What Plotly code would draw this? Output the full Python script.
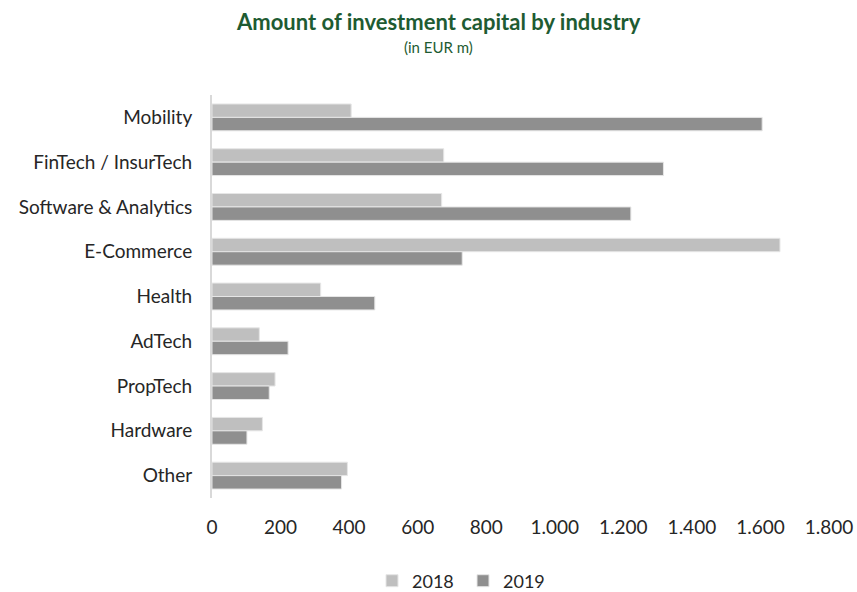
import plotly.graph_objects as go

# Investment capital by industry, EUR m
industries = ["Mobility", "FinTech / InsurTech", "Software & Analytics", "E-Commerce",
              "Health", "AdTech", "PropTech", "Hardware", "Other"]
values_2018 = [406, 676, 670, 1657, 317, 138, 184, 147, 395]
values_2019 = [1605, 1317, 1222, 730, 475, 222, 167, 102, 378]
x_ticks = [0, 200, 400, 600, 800, 1000, 1200, 1400, 1600, 1800]

FONT = "Lato"
W, H = 857, 592
L, R, T, B = 212, 28, 95, 94
TEXT = "#262626"
GREEN = "#1E5B32"

fig = go.Figure()
fig.add_trace(go.Bar(
    name="2018", y=industries, x=values_2018, orientation="h",
    marker=dict(color="#BFBFBF", line=dict(color="#E6E6E6", width=1)),
))
fig.add_trace(go.Bar(
    name="2019", y=industries, x=values_2019, orientation="h",
    marker=dict(color="#8F8F8F", line=dict(color="#E6E6E6", width=1)),
))

plot_w = W - L - R
plot_h = H - T - B


def px_to_paper_x(px):
    return (px - L) / plot_w


def px_to_paper_y(py):
    return 1 - (py - T) / plot_h


fig.update_layout(
    width=W, height=H,
    margin=dict(l=L, r=R, t=T, b=B, pad=0),
    paper_bgcolor="white", plot_bgcolor="white",
    barmode="group", bargap=0.4, bargroupgap=0,
    separators=",.",
    font=dict(family=FONT, size=19, color=TEXT),
    showlegend=True,
    legend=dict(orientation="h", xref="container", yref="container",
                x=372 / W, xanchor="left",
                y=1 - 581 / H, yanchor="middle",
                font=dict(size=18, color=TEXT), borderwidth=0,
                itemwidth=30, entrywidth=46, entrywidthmode="pixels",
                traceorder="normal"),
    annotations=[
        dict(text="<b>Amount of investment capital by industry</b>", x=px_to_paper_x(438),
             xref="paper", yref="paper", y=px_to_paper_y(22), yanchor="middle",
             showarrow=False, font=dict(family=FONT, size=22, color=GREEN)),
        dict(text="(in EUR m)", x=px_to_paper_x(438),
             xref="paper", yref="paper", y=px_to_paper_y(47), yanchor="middle",
             showarrow=False, font=dict(family=FONT, size=15, color=GREEN)),
    ],
)
fig.update_xaxes(range=[0, 1800], tickvals=x_ticks, separatethousands=True,
                 showgrid=False, zeroline=False, showline=False, ticks="",
                 automargin=False,
                 ticklabelstandoff=16, tickfont=dict(size=19, color=TEXT))
fig.update_yaxes(autorange="reversed", showgrid=False, zeroline=False,
                 showline=True, linecolor="#D9D9D9", linewidth=2, ticks="",
                 automargin=False,
                 ticklabelstandoff=14, tickfont=dict(size=19, color=TEXT))

fig.write_html("out.html")
